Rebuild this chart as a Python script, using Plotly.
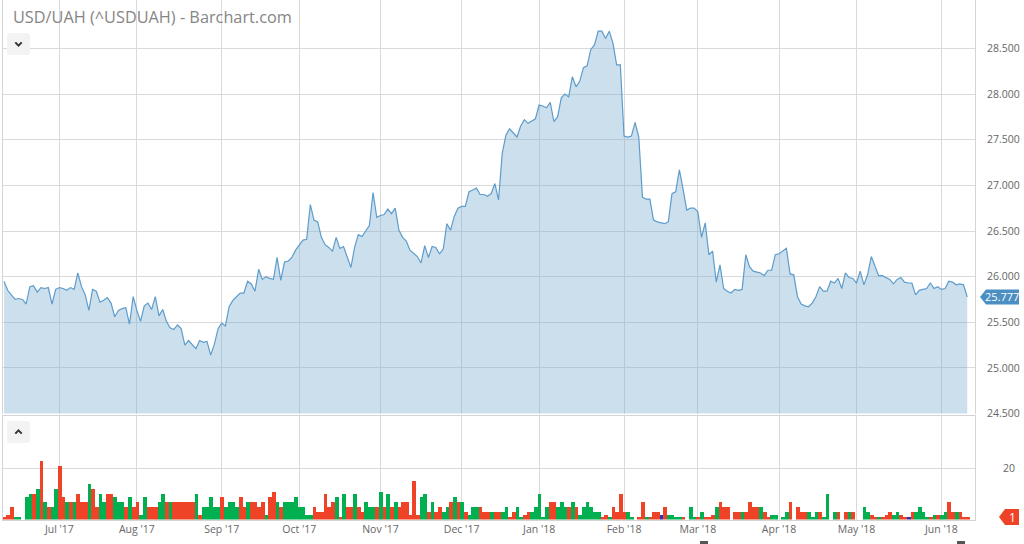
import plotly.graph_objects as go
import pandas as pd

TITLE = "USD/UAH (^USDUAH) - Barchart.com"
START_DATE = "2017-06-12"

PRICE = [
    25.95, 25.85, 25.80, 25.75, 25.76, 25.75, 25.70, 25.89, 25.90, 25.83,
    25.88, 25.87, 25.88, 25.70, 25.86, 25.88, 25.87, 25.85, 25.88, 25.86,
    26.04, 25.89, 25.80, 25.63, 25.86, 25.84, 25.72, 25.74, 25.77, 25.71,
    25.56, 25.63, 25.65, 25.66, 25.48, 25.78, 25.63, 25.51, 25.68, 25.71,
    25.64, 25.78, 25.57, 25.64, 25.51, 25.44,
    25.42, 25.47, 25.43, 25.25, 25.30, 25.26, 25.21, 25.30, 25.28, 25.29,
    25.14, 25.26, 25.43, 25.49, 25.46, 25.67, 25.74, 25.78, 25.82, 25.82,
    25.95, 25.92, 25.84, 26.08, 25.97, 26.00, 25.98, 25.97, 26.21, 25.96,
    26.16, 26.17, 26.21, 26.29, 26.35, 26.40, 26.41, 26.79, 26.62, 26.60,
    26.43, 26.35, 26.32, 26.28, 26.43,
    26.31, 26.33, 26.22, 26.10, 26.32, 26.46, 26.44, 26.50, 26.56, 26.92,
    26.65, 26.67, 26.68, 26.74, 26.69, 26.75, 26.51, 26.43, 26.39, 26.29,
    26.25, 26.22, 26.15, 26.34, 26.21, 26.33, 26.32, 26.25, 26.30, 26.58,
    26.51, 26.66, 26.75, 26.77, 26.77, 26.93, 26.95, 26.97, 26.90, 26.90,
    26.88, 26.91, 27.02, 26.84, 27.35,
    27.55, 27.62, 27.57, 27.53, 27.65, 27.72, 27.68, 27.71, 27.73, 27.88,
    27.87, 27.85, 27.91, 27.70, 27.75, 27.96, 28.00, 27.97, 28.19, 28.08,
    28.14, 28.29, 28.31, 28.49, 28.54, 28.69, 28.69, 28.61, 28.69, 28.56,
    28.32, 28.32, 27.54, 27.53, 27.54, 27.69, 27.53, 26.87, 26.85,
    26.85, 26.62, 26.60,
    26.59, 26.58, 26.60, 26.91, 26.93, 27.17, 26.96, 26.73, 26.75, 26.75,
    26.71, 26.43, 26.59, 26.24, 26.28, 25.94, 26.13, 25.87, 25.84, 25.82,
    25.86, 25.85, 25.86, 26.24, 26.11, 26.06, 26.05, 26.04, 26.01, 26.07,
    26.07, 26.24, 26.25, 26.28, 26.31, 26.03, 26.02, 25.78, 25.70, 25.68,
    25.67, 25.71, 25.78, 25.89, 25.84, 25.84, 25.95,
    25.93, 25.98, 25.87, 26.04, 25.99, 25.98, 25.93, 26.06, 25.91, 26.02,
    26.22, 26.11, 26.01, 26.01, 25.99, 25.97, 25.92, 25.97, 25.99, 25.94,
    25.93, 25.93, 25.80, 25.85, 25.86, 25.87, 25.93, 25.87, 25.89, 25.86,
    25.87, 25.95, 25.94, 25.91, 25.92, 25.91, 25.777,
]

VOLUME = [
    1, 2, 5, 1, 1, 0, 9, 10, 10, 12,
    23, 7, 5, 5, 12, 21, 9, 7, 7, 7,
    10, 7, 7, 14, 12, 5, 10, 7, 10, 10,
    9, 7, 7, 5, 9, 5, 7, 2, 9, 5,
    5, 5, 7, 10, 7, 7, 7, 7, 7, 7,
    7, 7, 10, 2, 5, 5, 9, 5, 5, 9,
    5, 7, 7, 5, 9, 5, 7, 7, 7, 5,
    7, 2, 9, 11, 7, 5, 7, 7, 7, 9,
    5, 5, 2, 2, 5, 3, 3, 10, 5, 7,
    9, 1, 10, 5, 5, 10, 5, 3, 7, 5,
    5, 5, 11, 5, 10, 5, 7, 5, 7, 7,
    2, 15, 2, 9, 10, 3, 7, 3, 5, 3,
    5, 7, 9, 7, 7, 3, 2, 5, 5, 5,
    3, 3, 3, 3, 3,
    3, 5, 1, 3, 5, 1, 2, 3, 3, 5,
    10, 1, 5, 7, 7, 5, 7, 5, 5, 7,
    5, 2, 5, 7, 5, 3, 3, 1, 2, 1,
    5, 3, 10, 3, 3, 1, 0, 1, 7, 1,
    1, 3, 3, 2, 5, 2, 2, 1, 1, 1,
    0, 5, 1, 1, 3, 1, 1, 2, 5, 7,
    5, 5, 0, 3, 3, 3, 3, 7, 5, 5,
    5, 3, 1, 2, 2, 0, 1, 3, 7, 0,
    5, 3, 3, 3, 1, 3, 3, 1, 10, 0,
    3, 3, 0, 3, 3, 3, 0, 0, 5, 3,
    2, 1, 1, 1, 2, 3, 2, 3, 2, 1,
    1, 3, 3, 5, 3, 1, 1, 2, 2, 2,
    3, 7, 3, 3, 3, 1, 1,
]

# u = up day (green), d = down day (red), f = unchanged (blue); one row per VOLUME row
DIRECTION_ROWS = [
    "ddduuuuudu", "duduuddudu", "dddudduudd", "uuududduud", "dduududddd",
    "dduduuuuud", "uuuudduddd", "dudduduuuu", "uuuudddddd", "ududdudduu",
    "ududududdd", "ddduududdu", "udududuuud", "ddudd",
    "uudduudduu", "uuudduuudu", "duuuuuuddu", "dddduuuddu", "dddfduuuud",
    "uuududddud", "dduddudddd", "udduuuuudu", "ddduuuduuu", "udududuuuu",
    "dduddduudd", "fduuuududu", "udduddd",
]
DIRECTION = list("".join(DIRECTION_ROWS))

COLORS = {"u": "#00b050", "d": "#ef4328", "f": "#2536b8"}

PRICE_TICKS = [24.5, 25.0, 25.5, 26.0, 26.5, 27.0, 27.5, 28.0, 28.5]
VOLUME_TICKS = [20]
MONTH_TICKS = ["2017-07-03", "2017-08-01", "2017-09-01", "2017-10-02",
               "2017-11-01", "2017-12-01", "2018-01-01", "2018-02-01",
               "2018-03-01", "2018-04-02", "2018-05-01", "2018-06-01"]
MONTH_LABELS = ["Jul '17", "Aug '17", "Sep '17", "Oct '17", "Nov '17",
                "Dec '17", "Jan '18", "Feb '18", "Mar '18", "Apr '18",
                "May '18", "Jun '18"]
LAST_PRICE = PRICE[-1]
LAST_VOLUME = VOLUME[-1]

W, H = 1024, 544
FONT = "Open Sans"
GRID = "#dadada"
TICK_FONT = dict(family=FONT, size=10.5, color="#666666")


def px(x):
    return x / W


def py(y):
    return 1 - y / H


n = len(PRICE)
dates = pd.bdate_range(START_DATE, periods=n) + pd.Timedelta(hours=12)
dirs = (DIRECTION + ["u"] * n)[:n]
vol = (VOLUME + [0] * n)[:n]
tick_dates = [pd.Timestamp(d) + pd.Timedelta(hours=12) for d in MONTH_TICKS]

fig = go.Figure()
fig.add_trace(go.Scatter(
    x=dates, y=PRICE, mode="lines", fill="tozeroy",
    line=dict(color="#5d9ccb", width=1.2),
    fillcolor="rgba(120,172,208,0.38)",
    xaxis="x", yaxis="y", hoverinfo="x+y", showlegend=False,
))
fig.add_trace(go.Bar(
    x=dates, y=vol, marker=dict(color=[COLORS[d] for d in dirs], line=dict(width=0)),
    xaxis="x2", yaxis="y2", showlegend=False,
))

x_range = ["2017-06-12 02:10", "2018-06-14 14:30"]
brk = [dict(bounds=["sat", "mon"])]
p_lo, p_hi = 24.5, 24.5 + 413.5 / 91.25
v_hi = (519.5 - 415.5) / 2.575

fig.update_layout(
    template="none",
    width=W, height=H, margin=dict(l=0, r=0, t=0, b=0, pad=0),
    paper_bgcolor="white", plot_bgcolor="white",
    bargap=0, font=dict(family=FONT, color="#666666", size=11),
    xaxis=dict(domain=[px(2.5), px(975)], type="date", range=x_range,
               rangebreaks=brk, anchor="y", tickvals=tick_dates,
               showticklabels=False, showgrid=True, gridcolor=GRID,
               zeroline=False, ticks="", automargin=False),
    yaxis=dict(domain=[py(413.5), 1], range=[p_lo, p_hi], side="right",
               anchor="x", tickvals=PRICE_TICKS, tickformat=".3f",
               showgrid=True, gridcolor=GRID, zeroline=False,
               showline=True, mirror=True, linecolor="#d4d4d4",
               ticks="", ticklabelstandoff=9, automargin=False,
               tickfont=TICK_FONT),
    xaxis2=dict(domain=[px(2.5), px(975)], type="date", range=x_range,
                rangebreaks=brk, anchor="y2", matches="x",
                tickvals=tick_dates, ticktext=MONTH_LABELS,
                showgrid=True, gridcolor=GRID, zeroline=False, ticks="",
                showline=True, mirror=True, linecolor="#d4d4d4",
                automargin=False, tickfont=TICK_FONT),
    yaxis2=dict(domain=[py(519.5), py(415.5)], range=[0, v_hi], side="right",
                anchor="x2", tickvals=VOLUME_TICKS, showticklabels=False,
                showgrid=True, gridcolor=GRID, zeroline=False,
                showline=True, mirror=True, linecolor="#d4d4d4", ticks="",
                automargin=False),
)

shapes = []
annotations = []

# title
annotations.append(dict(xref="paper", yref="paper", x=px(11), y=py(17),
                        xanchor="left", yanchor="middle", showarrow=False,
                        text=TITLE, font=dict(family=FONT, size=16.3, color="#858585")))

# volume tick label (right aligned like the price labels)
for v in VOLUME_TICKS:
    annotations.append(dict(xref="paper", yref="y2", x=px(1017), y=v,
                            xanchor="right", yanchor="middle", showarrow=False,
                            text=str(v), font=TICK_FONT))


def rounded(x0, y0, x1, y1, r):
    X = lambda v: px(v)
    Y = lambda v: py(v)
    return (f"M {X(x0+r)} {Y(y0)} L {X(x1-r)} {Y(y0)} Q {X(x1)} {Y(y0)} {X(x1)} {Y(y0+r)} "
            f"L {X(x1)} {Y(y1-r)} Q {X(x1)} {Y(y1)} {X(x1-r)} {Y(y1)} "
            f"L {X(x0+r)} {Y(y1)} Q {X(x0)} {Y(y1)} {X(x0)} {Y(y1-r)} "
            f"L {X(x0)} {Y(y0+r)} Q {X(x0)} {Y(y0)} {X(x0+r)} {Y(y0)} Z")


# collapse / expand buttons
for (x0, y0, x1, y1, up) in [(7, 33, 30, 55, False), (7, 421, 30, 443, True)]:
    shapes.append(dict(type="path", xref="paper", yref="paper",
                       path=rounded(x0, y0, x1, y1, 3),
                       fillcolor="#f3f3f3", line=dict(width=0)))
    cx, cy = (x0 + x1) / 2, (y0 + y1) / 2
    d = -1.6 if up else 1.6
    shapes.append(dict(type="path", xref="paper", yref="paper",
                       path=f"M {px(cx-3.2)} {py(cy-d)} L {px(cx)} {py(cy+d)} L {px(cx+3.2)} {py(cy-d)}",
                       line=dict(color="#333333", width=2)))

# last price marker
hh = 7.5 / 91.25
shapes.append(dict(type="path", xref="paper", yref="y",
                   path=(f"M {px(980)} {LAST_PRICE} L {px(986)} {LAST_PRICE+hh} "
                         f"L {px(1019)} {LAST_PRICE+hh} L {px(1019)} {LAST_PRICE-hh} "
                         f"L {px(986)} {LAST_PRICE-hh} Z"),
                   fillcolor="#4b8fc3", line=dict(width=0)))
annotations.append(dict(xref="paper", yref="y", x=px(1002), y=LAST_PRICE,
                        xanchor="center", yanchor="middle", showarrow=False,
                        text=f"{LAST_PRICE:.3f}", font=dict(family=FONT, size=11, color="white")))

# last volume marker
vy = 517
shapes.append(dict(type="path", xref="paper", yref="paper",
                   path=(f"M {px(999)} {py(vy)} L {px(1005)} {py(vy-8)} L {px(1019)} {py(vy-8)} "
                         f"L {px(1019)} {py(vy+8)} L {px(1005)} {py(vy+8)} Z"),
                   fillcolor="#ef4328", line=dict(width=0)))
annotations.append(dict(xref="paper", yref="paper", x=px(1012), y=py(vy),
                        xanchor="center", yanchor="middle", showarrow=False,
                        text=str(LAST_VOLUME), font=dict(family=FONT, size=12, color="white")))

# small scrollbar handles at the bottom
for x0 in (700, 957):
    shapes.append(dict(type="rect", xref="paper", yref="paper",
                       x0=px(x0), x1=px(x0 + 8), y0=py(541), y1=py(544),
                       fillcolor="#555555", line=dict(width=0)))

fig.update_layout(shapes=shapes, annotations=annotations)
fig.write_html(
    "out.html",
    config={"displayModeBar": False},
    post_script="document.body.style.margin='0px';document.body.style.overflow='hidden';",
)
